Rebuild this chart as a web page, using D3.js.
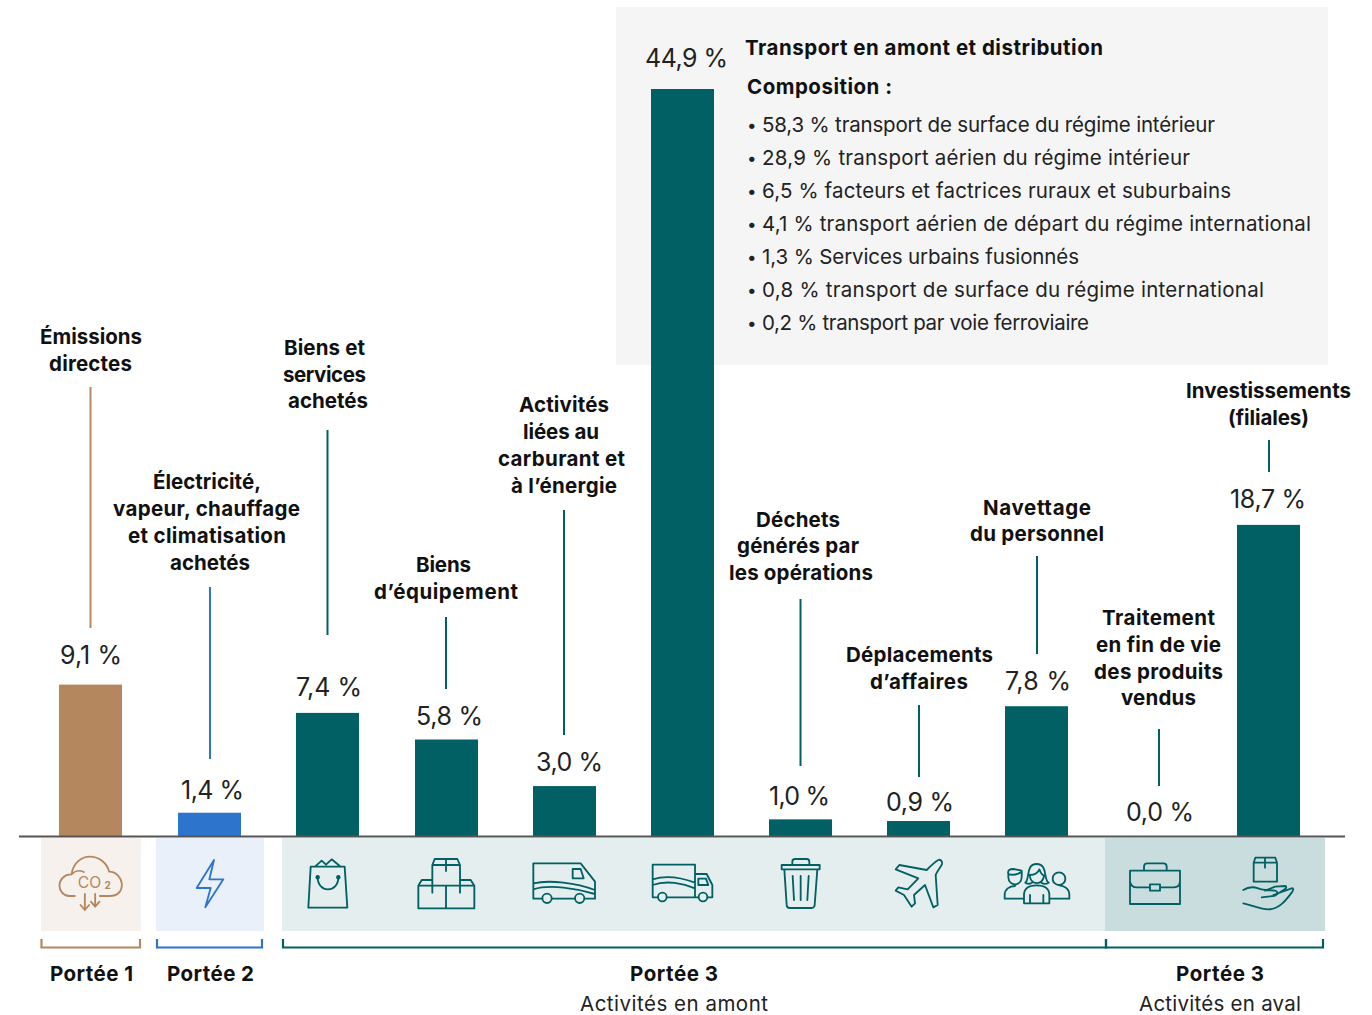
<!DOCTYPE html>
<html lang="fr"><head><meta charset="utf-8">
<script src="https://cdn.jsdelivr.net/npm/d3@7/dist/d3.min.js"></script>
<style>
html,body{margin:0;padding:0;background:#fff}
svg{display:block}
text{font-family:Inter,"Open Sans",sans-serif;fill:#111}
.b{font-weight:700;font-size:20.5px}
.v{font-size:25px;font-weight:400;fill:#222}
.r{font-size:20.5px;font-weight:400;fill:#222}
</style></head><body><svg id="c" width="1372" height="1015"></svg>
<script>
const categories=["Émissions directes","Électricité, vapeur, chauffage et climatisation achetés","Biens et services achetés","Biens d’équipement","Activités liées au carburant et à l’énergie","Transport en amont et distribution","Déchets générés par les opérations","Déplacements d’affaires","Navettage du personnel","Traitement en fin de vie des produits vendus","Investissements (filiales)"];
const values=[9.1,1.4,7.4,5.8,3.0,44.9,1.0,0.9,7.8,0.0,18.7];
const valueLabels=["9,1 %","1,4 %","7,4 %","5,8 %","3,0 %","44,9 %","1,0 %","0,9 %","7,8 %","0,0 %","18,7 %"];
const scopeOf=["s1","s2","s3","s3","s3","s3","s3","s3","s3","s3","s3"];
const compositionTitle="Transport en amont et distribution";
const compositionHead="Composition :";
const compositionItems=["58,3 % transport de surface du régime intérieur","28,9 % transport aérien du régime intérieur","6,5 % facteurs et factrices ruraux et suburbains","4,1 % transport aérien de départ du régime international","1,3 % Services urbains fusionnés","0,8 % transport de surface du régime international","0,2 % transport par voie ferroviaire"];

// layout (not data)
const colors={s1:"#b5875f",s2:"#2d74cc",s3:"#006064"};
const centers=[90.5,209.5,327.5,446.5,564.5,682.5,800.5,918.5,1036.5,1159,1268.5];
const itemEnds=[1215,1190,1231,1311,1079,1264,1089];
const notes=[
 {lines:["Émissions","directes"],sp:[[40,142],[49,132]],ys:[337,364],lx:90.5,l:[387,628]},
 {lines:["Électricité,","vapeur, chauffage","et climatisation","achetés"],sp:[[153,261],[113,300],[128,286],[170,250]],ys:[482,509,536,563],lx:210,l:[587,759]},
 {lines:["Biens et","services","achetés"],sp:[[284,365],[283,366],[288,368]],ys:[348,375,401],lx:327.5,l:[430,635]},
 {lines:["Biens","d’équipement"],sp:[[416,471],[374,518]],ys:[565,592],lx:446,l:[617,689]},
 {lines:["Activités","liées au","carburant et","à l’énergie"],sp:[[519,609],[523,599],[498,625],[511,617]],ys:[405,432,459,486],lx:564,l:[510,735]},
 null,
 {lines:["Déchets","générés par","les opérations"],sp:[[756,840],[737,859],[729,873]],ys:[520,546,573],lx:800.5,l:[599,766]},
 {lines:["Déplacements","d’affaires"],sp:[[846,993],[870,968]],ys:[655,682],lx:919,l:[705,777]},
 {lines:["Navettage","du personnel"],sp:[[983,1091],[970,1104]],ys:[508,534],lx:1037,l:[556,654]},
 {lines:["Traitement","en fin de vie","des produits","vendus"],sp:[[1102,1215],[1096,1221],[1094,1223],[1121,1196]],ys:[618,645,672,698],lx:1159,l:[729,786]},
 {lines:["Investissements","(filiales)"],sp:[[1186,1351],[1228,1309]],ys:[391,418],lx:1269,l:[440,472]}
];
const labelPos=[[60,122,655],[181,244,790],[296,362,687],[416,483,716],[536,603,762],[645,728,58],[769,830,796],[886,954,802],[1005,1071,681],[1126,1194,812],[1230,1306,499]];

const svg=d3.select("#c");
const cx=c=>centers[categories.indexOf(c)];
const y=d3.scaleLinear().domain([0,44.9]).range([836,89]);
const barW=63;
function put(cls,t,x0,x1,yy){
 return svg.append("text").attr("class",cls).attr("x",x0).attr("y",yy).attr("dy",".35em")
  .attr("textLength",x1-x0).attr("lengthAdjust","spacing").text(t);
}

// composition panel
svg.append("rect").attr("x",616).attr("y",7).attr("width",712).attr("height",358).attr("fill","#f5f5f5");
put("b",compositionTitle,745,1103,48);
put("b",compositionHead,747,892,87);
compositionItems.forEach((t,i)=>{
 svg.append("text").attr("class","r").attr("x",747).attr("y",125+i*33).attr("dy",".35em").style("font-size","17px").text("•");
 put("r",t,762,itemEnds[i],125+i*33);
});

// icon panels
[[41,141,"#f6f1ec"],[156,264,"#e9f0fa"],[282,1105,"#e4eeee"],[1105,1325,"#c9dddf"]].forEach(p=>
 svg.append("rect").attr("x",p[0]).attr("y",838).attr("width",p[1]-p[0]).attr("height",93).attr("fill",p[2]));

// bars
svg.selectAll("rect.bar").data(categories).join("rect").attr("class","bar")
 .attr("x",c=>cx(c)-barW/2).attr("width",barW)
 .attr("y",(c,i)=>y(values[i])).attr("height",(c,i)=>y(0)-y(values[i]))
 .attr("fill",(c,i)=>colors[scopeOf[i]]);

// baseline
svg.append("line").attr("x1",19).attr("x2",1345).attr("y1",836.5).attr("y2",836.5).attr("stroke","#555").attr("stroke-width",2);

// value labels
valueLabels.forEach((d,i)=>put("v",d,labelPos[i][0],labelPos[i][1],labelPos[i][2]));

// notes + leaders
notes.forEach((n,i)=>{ if(!n) return;
 n.lines.forEach((t,j)=>put("b",t,n.sp[j][0],n.sp[j][1],n.ys[j]));
 svg.append("line").attr("x1",n.lx).attr("x2",n.lx).attr("y1",n.l[0]).attr("y2",n.l[1]).attr("stroke",colors[scopeOf[i]]).attr("stroke-width",2);
});

// icons, drawn in 3x local units
const icons=[
 {c:[212,192],col:colors.s1,d:"M165 228H148C130 228 119 212 119 197C119 178 135 162 155 163C160 128 185 110 210 110C238 110 262 130 268 155C290 155 306 175 306 195C306 215 292 228 270 228H240M155 163C165 152 180 150 192 156M195 222V270M182 255L195 270L208 255M226 222V260M213 245L226 260L239 245",co2:true},
 {c:[568.5,192],col:colors.s2,d:"M582 120L530 204H572L556 262L610 178H568Z"},
 {c:[922.5,192],col:colors.s3,d:"M872 140H974L982 263H865ZM885 140L905 122L918 134L935 118L962 140M893 172C893 220 955 220 955 172",dots:[[893,172],[955,172]]},
 {c:[1279.5,192],col:colors.s3,d:"M1195 197H1363V265H1195ZM1278 197V265M1195 197L1205 180H1237M1320 180H1352L1363 197M1237 135H1320V218M1237 135V218M1237 135L1244 117H1312L1320 135M1278 117V153"},
 {c:[253.5,192],col:colors.s3,d:"M187 236H160V130H302L345 185V236H315M284 236H216M278 147H302L311 175H278ZM160 190C210 178 290 190 345 210M160 208C210 192 290 205 345 222",wheels:[[201,235,14],[299,235,14]]},
 {c:[607.5,192],col:colors.s3,d:"M533 232H518V134H645V232H562M645 162H680L697 195V232H684M654 232H645M655 176H678L685 195H655ZM518 178C560 165 610 175 645 188M518 195C560 180 610 190 645 205",wheels:[[547,231,13],[669,231,13]]},
 {c:[961.5,192],col:colors.s3,d:"M905 135H1019V148H905ZM937 135V125Q937 117 945 117H980Q988 117 988 125V135M913 148L920 255Q920 264 930 264H995Q1003 264 1004 255L1012 148M938 168L942 240M962 168V240M986 168L982 240"},
 {c:[1315.5,192],col:colors.s3,d:"M1375 120C1380 118 1388 122 1386 132C1384 140 1370 155 1367 165L1373 255L1360 262L1335 195L1302 225L1305 250L1295 260L1272 225L1247 212L1255 202L1283 208L1315 175L1247 148L1258 135L1340 150C1350 140 1365 125 1375 120Z"},
 {c:[349.5,192],col:colors.s3,d:"M316 188C330 180 316 132 350 132C384 132 370 180 386 188M316 188C322 192 330 192 336 188M386 188C380 192 370 192 364 188M329 165C345 165 355 157 358 148C362 160 366 165 372 167M329 165C331 197 370 197 372 167M312 250V225C312 205 325 196 350 196C375 196 388 205 388 225V250ZM330 225V250M370 225V250M312 236H254V225C254 208 268 198 285 198M388 236H448V225C448 208 435 198 418 196M265 162C262 150 270 147 280 147L305 152C306 160 305 165 305 172C303 200 267 200 265 172ZM266 162C280 167 295 162 304 156",wheels:[[417,176,19]]},
 {c:[717,192],col:colors.s3,d:"M630 152H780V252H630ZM672 152V140Q672 130 682 130H730Q740 130 740 140V152M630 185Q634 202 650 202H690M720 202H762Q778 202 780 185M690 193H720V212H690Z"},
 {c:[1045.5,192],col:colors.s3,d:"M1001 128H1071V185H1001ZM1001 128L1006 113H1066L1071 128M1035 113V143M970 210C985 200 1000 200 1015 205C1030 212 1055 210 1065 212C1078 215 1070 228 1058 228L1025 232M1060 225L1115 205C1122 203 1120 212 1115 218C1095 245 1075 268 1045 268C1020 268 1000 256 970 250M1035 212L1065 200L1095 198C1100 198 1100 204 1095 207L1072 222"}
];
const iconG=svg.append("g");
icons.forEach((ic,i)=>{
 const g=iconG.append("g").attr("transform",`translate(${centers[i]},884) scale(${1/3}) translate(${-ic.c[0]},${-ic.c[1]})`)
  .attr("fill","none").attr("stroke",ic.col).attr("stroke-width",5.5).attr("stroke-linejoin","round").attr("stroke-linecap","round");
 g.append("path").attr("d",ic.d);
 (ic.wheels||[]).forEach(w=>g.append("circle").attr("cx",w[0]).attr("cy",w[1]).attr("r",w[2]));
 (ic.dots||[]).forEach(w=>g.append("circle").attr("cx",w[0]).attr("cy",w[1]).attr("r",4).attr("fill",ic.col));
 if(ic.co2){
  g.append("text").attr("x",174).attr("y",204).attr("style",`font-size:47px;font-weight:400;fill:${ic.col};stroke:none`).text("CO");
  g.append("text").attr("x",254).attr("y",208).attr("style",`font-size:30px;font-weight:700;fill:${ic.col};stroke:none`).text("2");
 }
});

// brackets
[[41.5,140,colors.s1],[157,262,colors.s2],[283,1106,colors.s3],[1106,1323,colors.s3]].forEach(b=>
 svg.append("path").attr("d",`M${b[0]} 939V947.5H${b[1]}V939`).attr("fill","none").attr("stroke",b[2]).attr("stroke-width",2.2));

// scope labels
[["Portée 1",50,133,974,"b"],["Portée 2",167,254,974,"b"],["Portée 3",630,718,974,"b"],["Activités en amont",580,768,1004,"r"],["Portée 3",1176,1264,974,"b"],["Activités en aval",1139,1301,1004,"r"]].forEach(t=>
 put(t[4],t[0],t[1],t[2],t[3]));
</script></body></html>
